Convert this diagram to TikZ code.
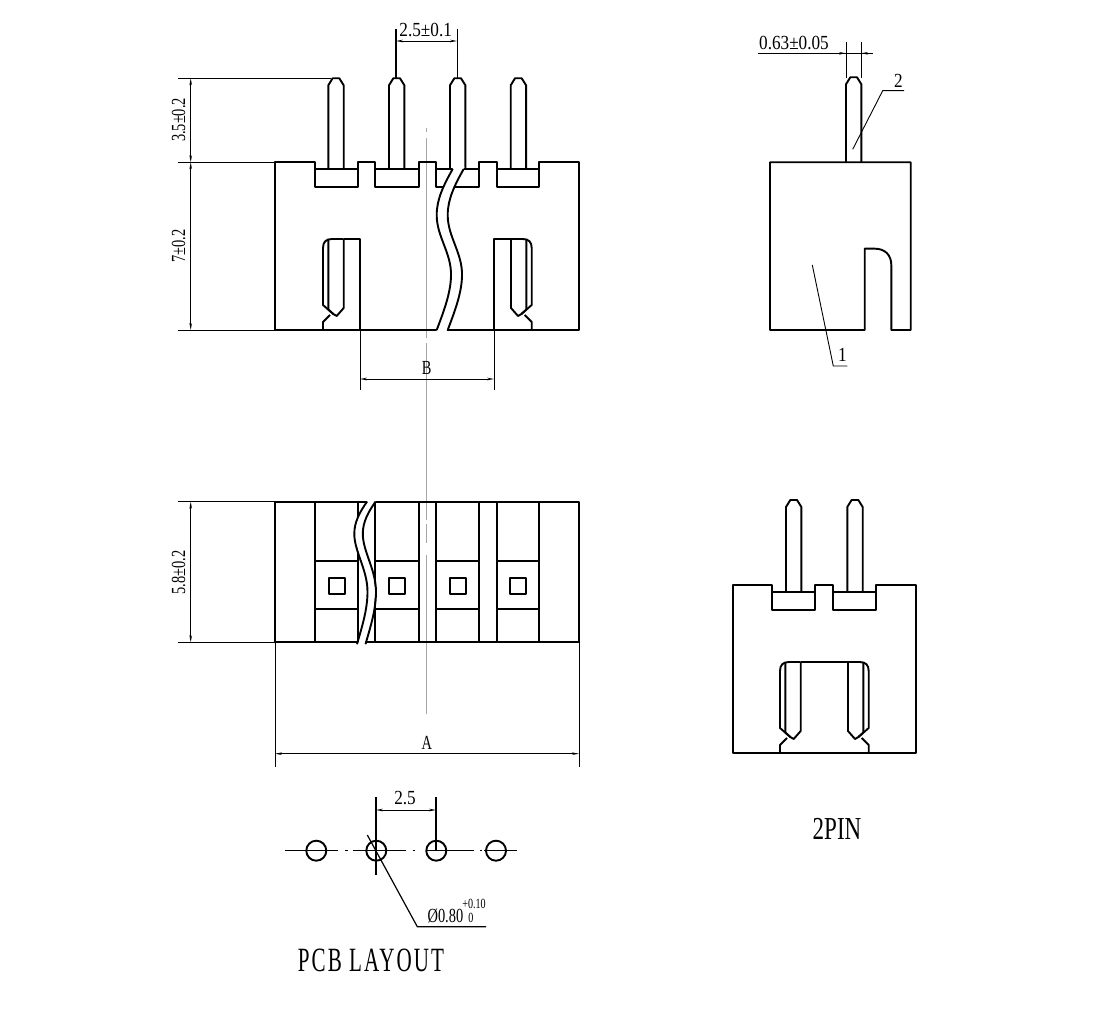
\documentclass[tikz,border=0pt]{standalone}
\usepackage{fontspec}
\usetikzlibrary{arrows.meta}
\setmainfont{Liberation Serif}
\newfontfamily\narrowfont[FakeStretch=0.72]{Liberation Serif}
\newfontfamily\plainfont[FakeStretch=0.86]{Liberation Serif}
\newfontfamily\titlefont[FakeStretch=0.62,LetterSpace=6]{Liberation Serif}

% break line of the top view and of the bottom view
\newcommand{\wavetop}{(0,0) .. controls (-9,16) and (-16,30) .. (-16,46) .. controls (-16,68) and (-1,84) .. (-1.7,107) .. controls (-2,125) and (-10,145) .. (-16,161)}
\newcommand{\wavelow}{(0,0) .. controls (-7,10) and (-12.7,20) .. (-12.7,32) .. controls (-12.7,50) and (0.5,68) .. (0.5,90) .. controls (0.5,108) and (-5,125) .. (-10,142.5)}

\begin{document}
\begin{tikzpicture}[
  x=1pt, y=-1pt,
  part/.style={line width=1.9pt, line join=round},
  thin part/.style={line width=1.2pt},
  dimline/.style={line width=0.9pt, {Stealth[length=7pt,width=2.6pt]}-{Stealth[length=7pt,width=2.6pt]}},
  extline/.style={line width=0.9pt},
  leader/.style={line width=0.9pt},
  axisline/.style={line width=0.9pt, black!35},
  dimtext/.style={font=\narrowfont\fontsize{20}{20}\selectfont, inner sep=0pt},
  numtext/.style={font=\plainfont\fontsize{20}{20}\selectfont, inner sep=0pt},
  pics/pintop/.style={code={
    \draw[part] (0,#1) -- (0,7) -- (4.3,0) -- (11,0) -- (15.4,7) -- (15.4,#1);
  }},
  pics/slotpin/.style={code={
    \draw[part] (20.7,-91) -- (9,-91) .. controls (3,-91) and (0,-88) .. (0,-82) -- (0,-25) -- (10.3,-16);
    \draw[part] (7,-15) -- (0,-8) -- (0,0);
    \draw[part] (5.3,-91) -- (5.3,-20.5) -- (10.3,-16) -- (13.7,-14) -- (20.7,-22) -- (20.7,-91);
  }},
]
\useasboundingbox (0,0) rectangle (1120,1032);

% Centre line
\draw[axisline] (426.7,128) -- (426.7,132);
\draw[axisline] (426.7,138) -- (426.7,338);
\draw[axisline] (426.7,343) -- (426.7,520);
\draw[axisline] (426.7,524) -- (426.7,543);
\draw[axisline] (426.7,555) -- (426.7,714);

% Top view body
\draw[part] (275,330) -- (275,162.3) -- (314.7,162.3) -- (314.7,187.3) -- (357.7,187.3) -- (357.7,162.3)
  -- (375.3,162.3) -- (375.3,187.3) -- (418.7,187.3) -- (418.7,162.3)
  -- (436.3,162.3) -- (436.3,187.3) -- (478.7,187.3) -- (478.7,162.3)
  -- (496.7,162.3) -- (496.7,187.3) -- (539.3,187.3) -- (539.3,162.3)
  -- (579,162.3) -- (579,330) -- cycle;
\foreach \a/\b in {314.7/357.7,375.3/418.7,436.3/478.7,496.7/539.3}
  \draw[part] (\a,169) -- (\b,169);
\foreach \x in {328.3,389,450,510.7}
  \pic at (\x,78.3) {pintop=90.7};

% Top view slots
\pic at (323,330) {slotpin};
\pic[xscale=-1] at (531.7,330) {slotpin};
\draw[part] (343.7,239) -- (360,239) -- (360,330);
\draw[part] (511,239) -- (494,239) -- (494,330);

% Top view break
\draw[white, line width=9.5pt, line cap=rect, shift={(458,169)}] \wavetop;
\draw[part, shift={(452.7,169)}] \wavetop;
\draw[part, shift={(463.7,169)}] \wavetop;

% Bottom view body
\draw[part] (275,501.7) rectangle (579,642.3);
\foreach \x in {314.7,357.7,375.3,418.7,436.3,478.7,496.7,539.3}
  \draw[part] (\x,501.7) -- (\x,642.3);
\foreach \a/\b in {314.7/357.7,375.3/418.7,436.3/478.7,496.7/539.3} {
  \draw[part] (\a,561.3) -- (\b,561.3);
  \draw[part] (\a,609.3) -- (\b,609.3);
}
\foreach \x in {336.7,396.7,457.7,518.3}
  \draw[part] (\x-8,577.7) rectangle (\x+8,593.7);

% Bottom view break
\draw[white, line width=6.5pt, line cap=rect, shift={(371.2,501.7)}] \wavelow;
\draw[part, shift={(367,501.7)}] \wavelow;
\draw[part, shift={(375.5,501.7)}] \wavelow;

% Side view
\draw[part] (864.7,330) -- (864.7,248.7) -- (875,248.7) .. controls (885,248.7) and (891.3,255) .. (891.3,265)
  -- (891.3,330) -- (910.7,330) -- (910.7,162.3) -- (770,162.3) -- (770,330) -- cycle;
\pic at (846,77.3) {pintop=85};

% 2 pin view
\draw[part] (732.7,753) -- (732.7,585.3) -- (772.3,585.3) -- (772.3,610.3) -- (815,610.3) -- (815,585.3)
  -- (833.3,585.3) -- (833.3,610.3) -- (876.3,610.3) -- (876.3,585.3) -- (916,585.3) -- (916,753) -- cycle;
\foreach \a/\b in {772.3/815,833.3/876.3}
  \draw[part] (\a,592) -- (\b,592);
\foreach \x in {786,847.3}
  \pic at (\x,500) {pintop=92};
\pic at (780,753) {slotpin};
\pic[xscale=-1] at (868.7,753) {slotpin};
\draw[part] (800.7,662) -- (848,662);

% Layout holes
\foreach \x/\n in {316.3/a,376.3/b,436.3/c,496/d}
  \node[draw, circle, line width=1.9pt, minimum size=20pt, inner sep=0pt] (hole\n) at (\x,850.7) {};
\draw[thin part] (285,850.7) -- (338.3,850.7);
\draw[thin part] (345,850.7) -- (347.5,850.7);
\draw[thin part] (353.3,850.7) -- (406,850.7);
\draw[thin part] (412.5,850.7) -- (415,850.7);
\draw[thin part] (426.7,850.7) -- (474.3,850.7);
\draw[thin part] (480,850.7) -- (482,850.7);
\draw[thin part] (484,850.7) -- (516.7,850.7);

% Dimensions, left side
\coordinate (pintip) at (190.7,78.3);
\coordinate (bodytop) at (190.7,162.3);
\coordinate (bodylow) at (190.7,330);
\coordinate (basetop) at (190.7,501.7);
\coordinate (baselow) at (190.7,642.3);
\draw[extline] (178,78.3) -- (331,78.3);
\draw[extline] (178,162.3) -- (275,162.3);
\draw[extline] (178,330) -- (275,330);
\draw[extline] (178,501.7) -- (275,501.7);
\draw[extline] (178,642.3) -- (275,642.3);
\draw[dimline] (pintip) -- (bodytop);
\draw[dimline] (bodytop) -- (bodylow);
\draw[dimline] (basetop) -- (baselow);
\node[dimtext, rotate=90] (pinheight) at (178.5,120) {3.5±0.2};
\node[dimtext, rotate=90] (bodyheight) at (178.5,246) {7±0.2};
\node[dimtext, rotate=90] (basedepth) at (178.5,572.7) {5.8±0.2};

% Dimensions, pitch
\coordinate (pitchleft) at (396,41);
\coordinate (pitchright) at (457,41);
\draw[extline, line width=1.4pt] (396,29) -- (396,78);
\draw[extline] (457,29) -- (457,78);
\draw[dimline] (pitchleft) -- (pitchright);
\node[numtext] (pitchtext) at (425.7,30) {2.5±0.1};

% Dimensions, B and A
\coordinate (bleft) at (360,379);
\coordinate (bright) at (494,379);
\coordinate (aleft) at (275,753.7);
\coordinate (aright) at (579,753.7);
\draw[extline] (360,330) -- (360,390);
\draw[extline] (494,330) -- (494,390);
\draw[dimline] (bleft) -- (bright);
\node[dimtext] (btext) at (426.7,368) {B};
\draw[extline] (275,642.3) -- (275,766.7);
\draw[extline] (579,642.3) -- (579,766.7);
\draw[dimline] (aleft) -- (aright);
\node[dimtext] (atext) at (426.7,743) {A};

% Dimensions, side view
\coordinate (thickstart) at (758.3,53.3);
\coordinate (thickend) at (873.3,53.3);
\draw[extline] (846,41.7) -- (846,78);
\draw[extline] (861,41.7) -- (861,78);
\draw[extline] (thickstart) -- (thickend);
\draw[extline, -{Stealth[length=7pt,width=2.6pt]}] (838,53.3) -- (846,53.3);
\draw[extline, -{Stealth[length=7pt,width=2.6pt]}] (869,53.3) -- (861,53.3);
\node[numtext] (thicktext) at (794,43) {0.63±0.05};

% Part leaders
\coordinate (pinmark) at (852.7,149.3);
\coordinate (pinknee) at (882.7,90.7);
\coordinate (pinend) at (904,90.7);
\coordinate (bodymark) at (812.3,265);
\coordinate (bodyknee) at (833.3,366);
\coordinate (bodyend) at (847.3,366);
\draw[leader] (pinmark) -- (pinknee) -- (pinend);
\draw[leader] (bodymark) -- (bodyknee) -- (bodyend);
\node[numtext] (pinlabel) at (898.3,81) {2};
\node[numtext] (bodylabel) at (842.3,355) {1};

% Layout dimensions
\coordinate (holeleft) at (376,810);
\coordinate (holeright) at (436,810);
\draw[thin part] (376,797) -- (376,875);
\draw[thin part] (436,797) -- (436,850.7);
\draw[dimline] (holeleft) -- (holeright);
\node[numtext] (holepitch) at (405,798.5) {2.5};
\coordinate (drillmark) at (367.3,835);
\coordinate (drillknee) at (417.3,926.7);
\coordinate (drillend) at (486,926.7);
\draw[thin part] (drillmark) -- (drillknee) -- (drillend);
\node[dimtext] (drilltext) at (445.4,916) {Ø0.80};
\node[font=\narrowfont\fontsize{14}{14}\selectfont, inner sep=0pt] (drillupper) at (474,903.5) {+0.10};
\node[font=\narrowfont\fontsize{14}{14}\selectfont, inner sep=0pt] (drilllower) at (471,918) {0};

% Captions
\node[font=\titlefont\fontsize{34}{34}\selectfont, inner sep=0pt] (layoutcaption) at (371,960) {PCB LAYOUT};
\node[font=\narrowfont\fontsize{32}{32}\selectfont, inner sep=0pt] (pincaption) at (837,829) {2PIN};

\end{tikzpicture}
\end{document}
